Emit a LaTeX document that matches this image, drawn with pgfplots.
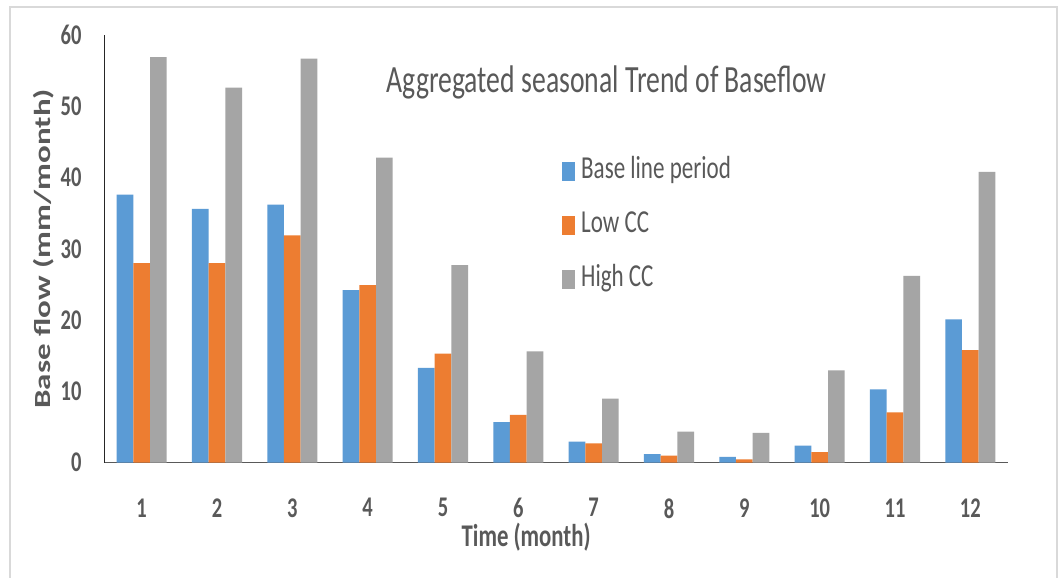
\documentclass[border=0pt]{standalone}
\usepackage{fontspec}
\setmainfont{Carlito}[FakeStretch=0.72]
\newfontfamily\widefont{Carlito}
\usepackage{pgfplots}
\pgfplotsset{compat=1.18}
\usepackage{pgfplotstable}

\definecolor{cblue}{HTML}{5B9BD5}
\definecolor{corange}{HTML}{ED7D31}
\definecolor{cgray}{HTML}{A5A5A5}
\definecolor{ctext}{HTML}{595959}
\definecolor{cframe}{HTML}{D9D9D9}

% monthly base flow (mm/month)
\pgfplotstableread{
month base low  high
1     37.6 28.0 56.9
2     35.6 28.0 52.6
3     36.2 31.9 56.7
4     24.2 24.9 42.8
5     13.3 15.3 27.7
6     5.7  6.7  15.6
7     2.95 2.7  9.0
8     1.2  1.0  4.35
9     0.8  0.47 4.2
10    2.4  1.5  12.95
11    10.3 7.07 26.2
12    20.1 15.8 40.8
}\flowdata

\begin{document}
\begin{tikzpicture}
\useasboundingbox (0,0) rectangle (1061pt,578pt);
\fill[white] (0,0) rectangle (1061pt,578pt);
\draw[cframe, line width=1.5pt] (10pt,-2pt) -- (10pt,571pt) -- (1057pt,571pt) -- (1057pt,-2pt);
\begin{axis}[
  at={(104pt,115.3pt)}, anchor=south west,
  scale only axis, width=904pt, height=427.7pt,
  xmin=0.5, xmax=12.5, ymin=0, ymax=60,
  ytick={0,10,...,60}, xtick={1,...,12},
  axis x line=bottom, axis y line=left,
  x axis line style={-, draw=ctext, line width=1.3pt},
  y axis line style={-, draw=black!85, line width=0.8pt},
  major tick length=0pt,
  /pgf/number format/assume math mode=true,
  yticklabel style={font=\bfseries\fontsize{28.5}{30}\selectfont, text=ctext,
    anchor=east, inner sep=0pt, xshift=-22.3pt},
  xticklabel style={font=\bfseries\fontsize{28.5}{30}\selectfont, text=ctext,
    anchor=north, inner sep=0pt, yshift=-35.6pt},
  ybar=0pt, bar width=16.7pt,
  title={Aggregated seasonal Trend of Baseflow},
  title style={at={(axis description cs:0.556,0.852)}, anchor=base,
    font=\fontsize{38.5}{41}\selectfont, text=ctext, inner sep=0pt},
  xlabel={Time (month)},
  xlabel style={at={(axis description cs:0.467,-0.196)}, anchor=base,
    font=\bfseries\fontsize{31.6}{34}\selectfont, text=ctext, inner sep=0pt},
  ylabel={\scalebox{1}[0.70]{\widefont\bfseries\fontsize{33}{36}\selectfont Base flow (mm/month)}},
  ylabel style={at={(axis description cs:-0.0669,0.5)}, anchor=center,
    text=ctext, inner sep=0pt},
  legend cell align=left,
  legend image code/.code={
    \fill[#1] (0pt,-9.5pt) rectangle (12.7pt,9.2pt);
    \path (19pt,0pt);
  },
  legend style={at={(axis description cs:0.5033,0.716)}, anchor=north west,
    draw=none, fill=none, font=\fontsize{32}{34}\selectfont, text=ctext,
    row sep=27.8pt,
    nodes={inner sep=0pt, text height=20pt, text depth=6pt}},
]
\addplot[fill=cblue, draw=none] table[x=month, y=base] {\flowdata};
\addplot[fill=corange, draw=none] table[x=month, y=low] {\flowdata};
\addplot[fill=cgray, draw=none] table[x=month, y=high] {\flowdata};
\legend{Base line period, Low CC, High CC}
\end{axis}
\end{tikzpicture}
\end{document}
